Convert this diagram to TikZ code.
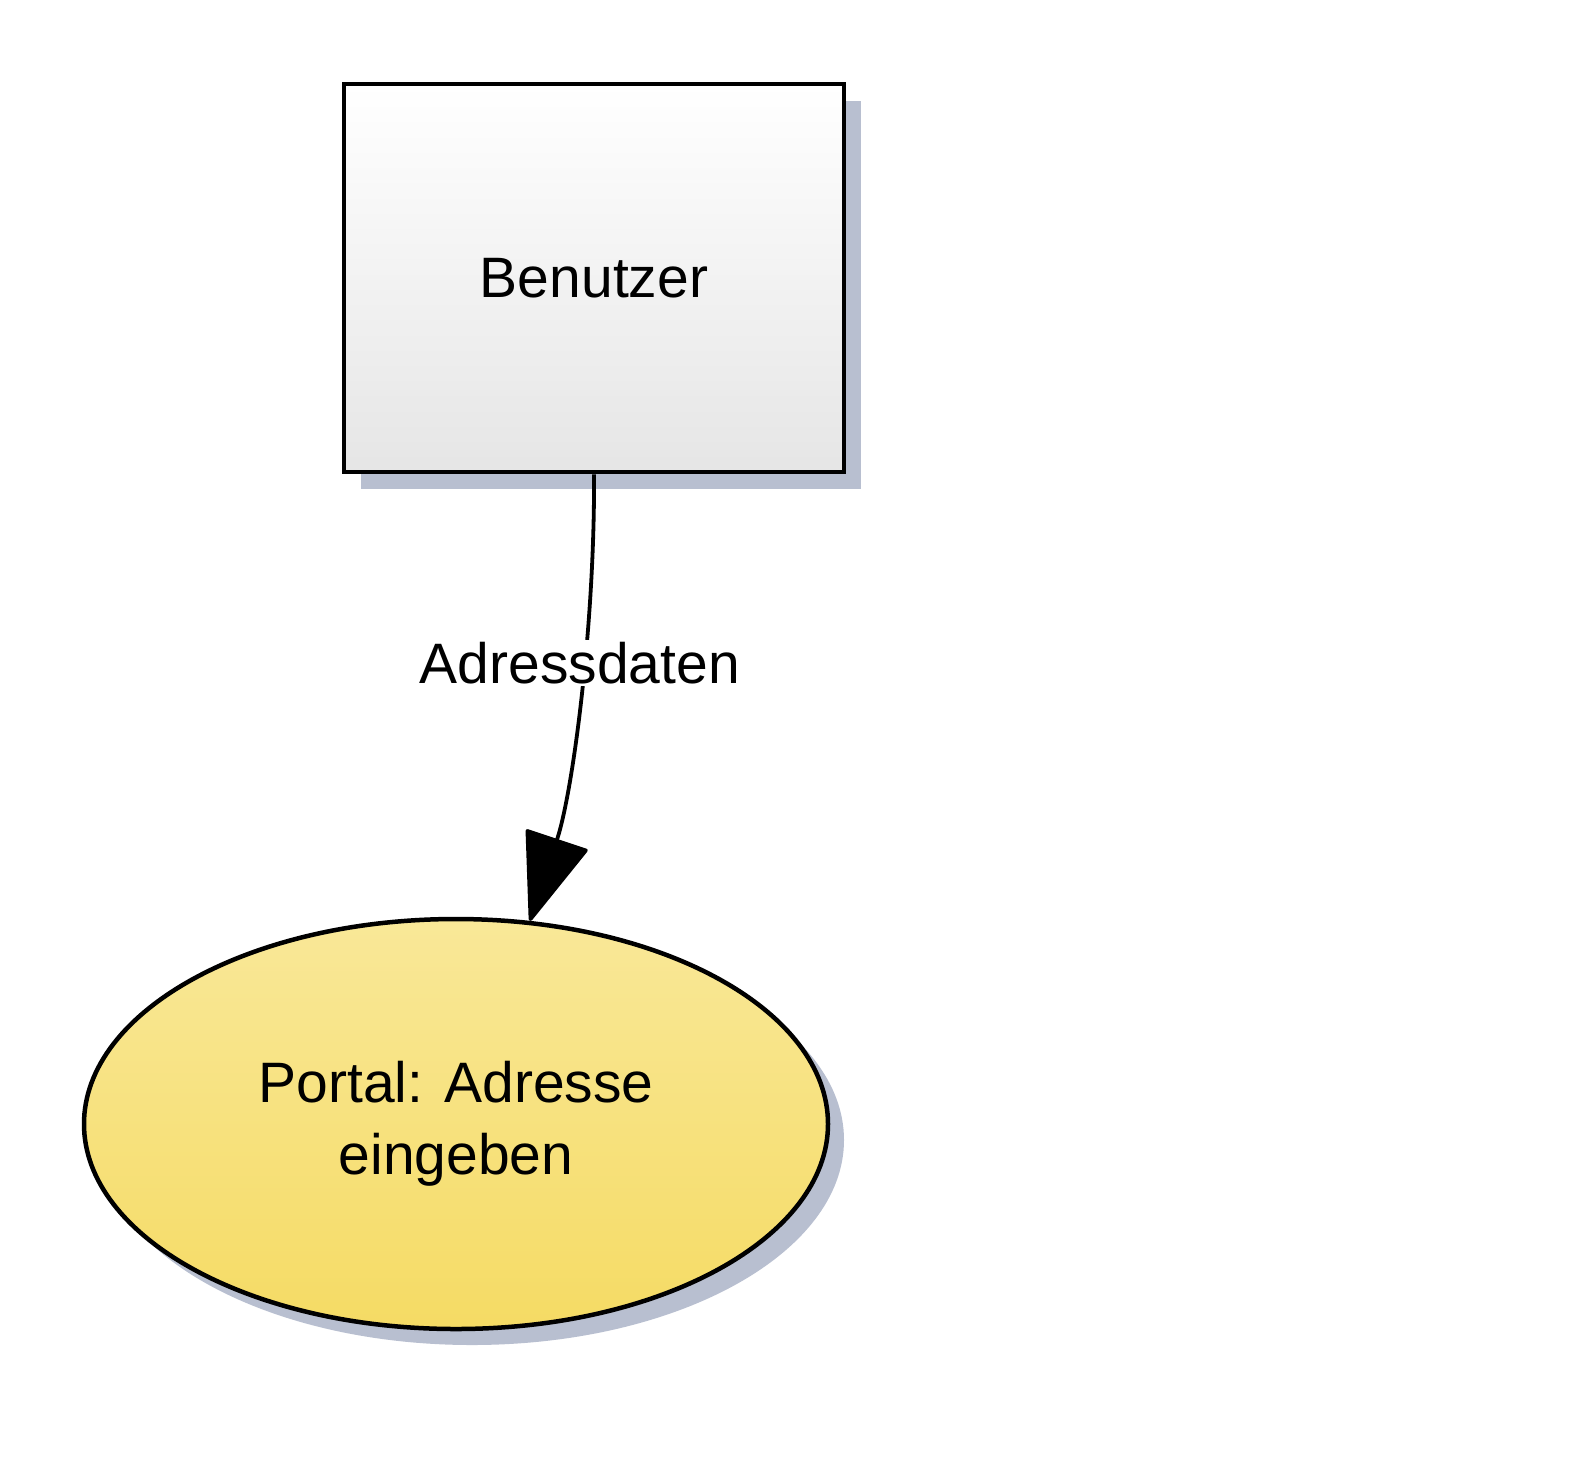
\documentclass[tikz,border=0pt]{standalone}
\usepackage{fontspec}
\setmainfont{Liberation Sans}
\usetikzlibrary{
arrows.meta,
shadows,
shapes
}
\definecolor{shadowblue}{RGB}{184,191,208}
\definecolor{yellowtop}{RGB}{249,232,152}
\definecolor{yellowbot}{RGB}{245,219,100}
\tikzset{>=latex}

\begin{document}
\begin{tikzpicture}[x=0.5pt, y=-0.5pt, font=\fontsize{28.5}{36}\selectfont,
	entity/.style={
		rectangle,
		draw,
		line width=2.25pt,
		minimum width=250pt,
		minimum height=194pt,
		top color=white,
		bottom color=black!10,
		drop shadow={shadow xshift=8.5pt, shadow yshift=-8.5pt, fill=shadowblue, opacity=1}
	},
	process/.style={
		ellipse,
		draw,
		line width=2.25pt,
		minimum width=372pt,
		minimum height=205pt,
		align=center,
		top color=yellowtop,
		bottom color=yellowbot,
		drop shadow={shadow xshift=8pt, shadow yshift=-8pt, fill=shadowblue, opacity=1}
	},
	flow/.style={
		line width=1.9pt,
		-{Triangle[length=45pt, width=33pt, round]}
	}]
		\useasboundingbox (0,0) rectangle (1577,1478);
		\node[entity]  (benutzer) at (594,278)  {Benutzer};
		\node[process] (eingabe)  at (456,1124) {Portal: Adresse\\eingeben};
		
		\draw[flow] (benutzer.south) .. controls +(1,149) and +(43,-129) .. (eingabe.70)
			node[pos=0.41, fill=white, inner sep=1pt, xshift=-2pt] (adressdaten) {Adressdaten};
	\end{tikzpicture}
\end{document}
